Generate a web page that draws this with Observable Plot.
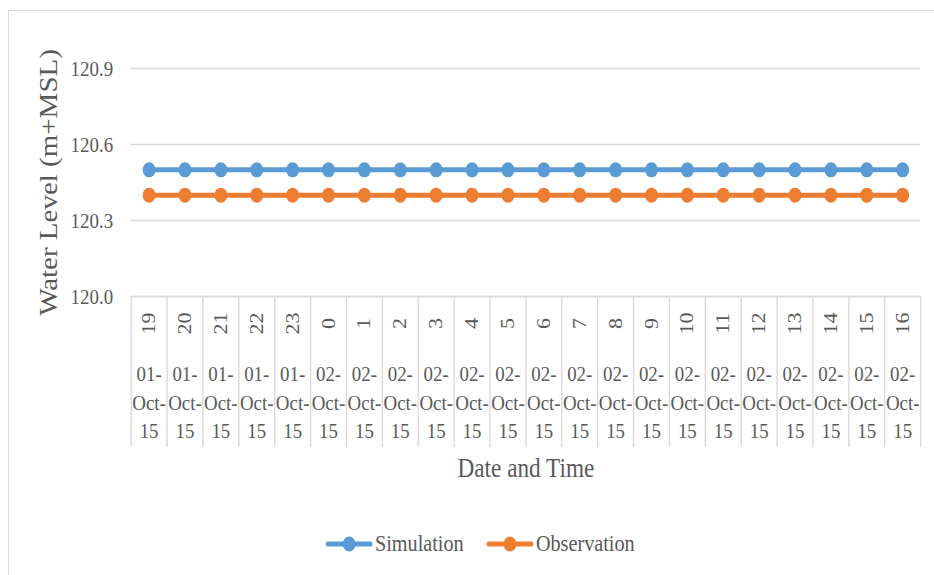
<!DOCTYPE html>
<html>
<head>
<meta charset="utf-8">
<script src="https://cdn.jsdelivr.net/npm/d3@7"></script>
<script src="https://cdn.jsdelivr.net/npm/@observablehq/plot@0.6"></script>
<style>
  html, body { margin: 0; padding: 0; background: #fff; overflow: hidden; width: 934px; height: 575px; }
  #frame { position: absolute; left: 8px; top: 10px; width: 1000px; height: 700px; border: 1.5px solid #dadada; box-sizing: border-box; }
  #wrap { position: absolute; left: 0; top: 0; width: 1086px; height: 575px; transform: scaleX(0.86); transform-origin: 0 0; }
  #legend { position: absolute; left: 379px; top: 530px; display: flex; align-items: center; font-family: "Liberation Serif", "Times New Roman", Times, serif; font-size: 23.5px; color: #595959; }
  #legend .item { display: flex; align-items: center; margin-right: 27px; }
  #legend svg { margin-right: 3px; }
  svg text { font-family: "Liberation Serif", "Times New Roman", Times, serif; }
</style>
</head>
<body>
<div id="frame"></div>
<div id="wrap">
  <div id="chart"></div>
  <div id="legend"></div>
</div>
<script>
const hours = [19, 20, 21, 22, 23, 0, 1, 2, 3, 4, 5, 6, 7, 8, 9, 10, 11, 12, 13, 14, 15, 16];
const dates = ["01-Oct-15", "01-Oct-15", "01-Oct-15", "01-Oct-15", "01-Oct-15",
  "02-Oct-15", "02-Oct-15", "02-Oct-15", "02-Oct-15", "02-Oct-15", "02-Oct-15",
  "02-Oct-15", "02-Oct-15", "02-Oct-15", "02-Oct-15", "02-Oct-15", "02-Oct-15",
  "02-Oct-15", "02-Oct-15", "02-Oct-15", "02-Oct-15", "02-Oct-15"];
const simulation = [120.5, 120.5, 120.5, 120.5, 120.5, 120.5, 120.5, 120.5, 120.5, 120.5, 120.5,
  120.5, 120.5, 120.5, 120.5, 120.5, 120.5, 120.5, 120.5, 120.5, 120.5, 120.5];
const observation = [120.4, 120.4, 120.4, 120.4, 120.4, 120.4, 120.4, 120.4, 120.4, 120.4, 120.4,
  120.4, 120.4, 120.4, 120.4, 120.4, 120.4, 120.4, 120.4, 120.4, 120.4, 120.4];
const yTicks = [120.0, 120.3, 120.6, 120.9];
const seriesNames = ["Simulation", "Observation"];
const seriesColors = ["#5B9BD5", "#ED7D31"];

const cats = hours.map((h, i) => ({i, hour: String(h), date: dates[i]}));
const rows = [
  ...simulation.map((v, i) => ({i, value: v, series: seriesNames[0]})),
  ...observation.map((v, i) => ({i, value: v, series: seriesNames[1]}))
];
const bounds = d3.range(cats.length + 1).map(k => k - 0.5);

const W = 1086, H = 500, mT = 68, mB = 204;
const plotH = H - mT - mB;
const txt = "#595959";
const grid = "#d9d9d9";
const serif = "'Liberation Serif', 'Times New Roman', Times, serif";

const chart = Plot.plot({
  width: W, height: H,
  marginLeft: 152, marginRight: 16, marginTop: mT, marginBottom: mB,
  style: {background: "transparent", fontFamily: serif, color: txt},
  x: {type: "linear", domain: [-0.5, cats.length - 0.5], axis: null},
  y: {domain: [120, 120.9]},
  color: {domain: seriesNames, range: seriesColors},
  marks: [
    Plot.gridY(yTicks, {stroke: grid, strokeOpacity: 1, strokeWidth: 1.4}),
    Plot.axisY(yTicks, {tickSize: 0, tickPadding: 21, fontSize: 22, tickFormat: d3.format(".1f"), label: null, fill: txt, fontFamily: serif}),
    Plot.ruleY([120], {stroke: grid, strokeWidth: 1.6}),
    Plot.ruleX(bounds, {x: d => d, stroke: grid, strokeWidth: 1.6, insetTop: plotH, insetBottom: -151}),
    Plot.text(cats, {x: "i", text: "hour", frameAnchor: "bottom", dy: 27, rotate: -90, textAnchor: "middle", lineAnchor: "middle", fontSize: 22, fill: txt, fontFamily: serif}),
    Plot.text(cats, {x: "i", text: d => d.date.replace(/-/g, "-\n"), frameAnchor: "bottom", dy: 104, lineAnchor: "middle", lineHeight: 1.3, fontSize: 22, fill: txt, fontFamily: serif}),
    Plot.text(["Date and Time"], {frameAnchor: "bottom", dy: 172, lineAnchor: "middle", fontSize: 27, fill: txt, fontFamily: serif}),
    Plot.text(["Water Level (m+MSL)"], {frameAnchor: "left", dx: -96, rotate: -90, textAnchor: "middle", lineAnchor: "middle", fontSize: 29, fill: txt, fontFamily: serif}),
    Plot.line(rows, {x: "i", y: "value", z: "series", stroke: "series", strokeWidth: 5}),
    Plot.dot(rows, {x: "i", y: "value", fill: "series", r: 7.5, stroke: "none"})
  ]
});
document.getElementById("chart").appendChild(chart);

const legend = document.getElementById("legend");
seriesNames.forEach((name, k) => {
  const item = document.createElement("div");
  item.className = "item";
  item.innerHTML = `<svg width="54" height="18"><line x1="2" y1="9" x2="52" y2="9" stroke="${seriesColors[k]}" stroke-width="5" stroke-linecap="round"/><circle cx="27" cy="9" r="7.5" fill="${seriesColors[k]}"/></svg><span>${name}</span>`;
  legend.appendChild(item);
});
</script>
</body>
</html>
